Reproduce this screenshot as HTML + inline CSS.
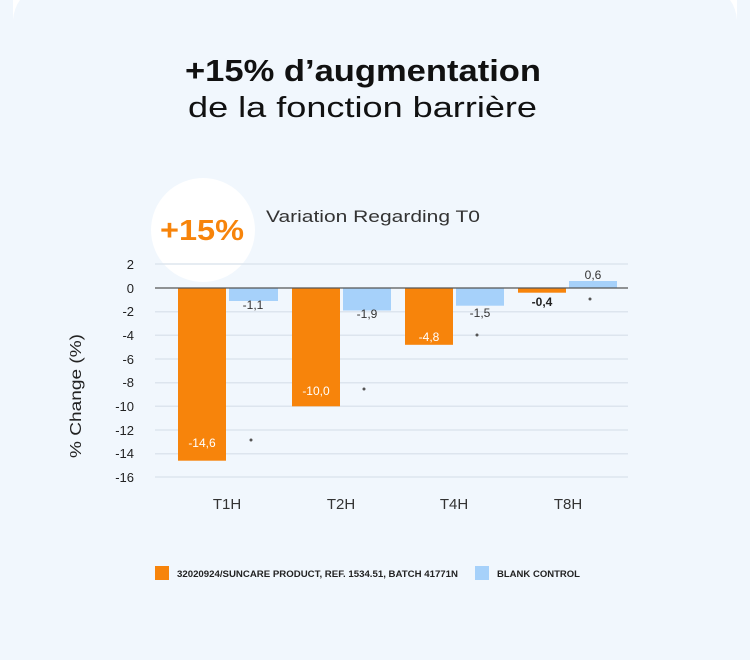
<!DOCTYPE html>
<html><head><meta charset="utf-8"><style>
html,body{margin:0;padding:0;}
body{width:750px;height:660px;background:#f1f7fd;font-family:"Liberation Sans",sans-serif;overflow:hidden;position:relative;}
</style></head><body>
<svg width="750" height="660" viewBox="0 0 750 660" xmlns="http://www.w3.org/2000/svg" style="position:absolute;left:0;top:0">
<rect width="750" height="660" fill="#f1f7fd"/>
<path d="M13 0 L20 0 Q14 8 13 20 Z" fill="#ffffff"/>
<path d="M737 0 L730 0 Q736 8 737 20 Z" fill="#ffffff"/>
<text x="185" y="81" textLength="356" lengthAdjust="spacingAndGlyphs" font-size="31" font-weight="bold" fill="#111">+15% d’augmentation</text>
<text x="188" y="117" textLength="349" lengthAdjust="spacingAndGlyphs" font-size="29" fill="#111">de la fonction barrière</text>
<circle cx="203" cy="230" r="52" fill="#ffffff"/>
<text x="160" y="240" textLength="84" lengthAdjust="spacingAndGlyphs" font-size="29" font-weight="bold" fill="#f7840b">+15%</text>
<text x="266" y="222" textLength="214" lengthAdjust="spacingAndGlyphs" font-size="17" fill="#333">Variation Regarding T0</text>
<g stroke="#dde5ee" stroke-width="1.5">
<line x1="155" x2="628" y1="264" y2="264"/>
<line x1="155" x2="628" y1="311.7" y2="311.7"/>
<line x1="155" x2="628" y1="335.3" y2="335.3"/>
<line x1="155" x2="628" y1="359" y2="359"/>
<line x1="155" x2="628" y1="382.7" y2="382.7"/>
<line x1="155" x2="628" y1="406.3" y2="406.3"/>
<line x1="155" x2="628" y1="430" y2="430"/>
<line x1="155" x2="628" y1="453.7" y2="453.7"/>
<line x1="155" x2="628" y1="477" y2="477"/>
</g>
<g fill="#f7840b">
<rect x="178" y="288" width="48" height="172.7"/>
<rect x="292" y="288" width="48" height="118.3"/>
<rect x="405" y="288" width="48" height="56.8"/>
<rect x="518" y="288" width="48" height="4.7"/>
</g>
<g fill="#a6d1fa">
<rect x="229" y="288" width="49" height="13"/>
<rect x="343" y="288" width="48" height="22.5"/>
<rect x="456" y="288" width="48" height="17.7"/>
<rect x="569" y="281" width="48" height="7"/>
</g>
<line x1="155" x2="628" y1="288" y2="288" stroke="#555" stroke-width="1.2"/>
<g font-size="13" fill="#222" text-anchor="end">
<text x="134" y="269">2</text><text x="134" y="293">0</text><text x="134" y="316">-2</text>
<text x="134" y="340">-4</text><text x="134" y="364">-6</text><text x="134" y="387">-8</text>
<text x="134" y="411">-10</text><text x="134" y="435">-12</text><text x="134" y="458">-14</text>
<text x="134" y="482">-16</text>
</g>
<text transform="translate(81,396) rotate(-90)" text-anchor="middle" textLength="124" lengthAdjust="spacingAndGlyphs" font-size="16" fill="#222">% Change (%)</text>
<g font-size="12" text-anchor="middle">
<text x="202" y="447" fill="#fff">-14,6</text>
<text x="316" y="395" fill="#fff">-10,0</text>
<text x="429" y="341" fill="#fff">-4,8</text>
<text x="542" y="306" fill="#222" font-weight="bold">-0,4</text>
<text x="253" y="309" fill="#333">-1,1</text>
<text x="367" y="318" fill="#333">-1,9</text>
<text x="480" y="317" fill="#333">-1,5</text>
<text x="593" y="279" fill="#333">0,6</text>
</g>
<g fill="#555">
<circle cx="251" cy="440" r="1.5"/><circle cx="364" cy="389" r="1.5"/>
<circle cx="477" cy="335" r="1.5"/><circle cx="590" cy="299" r="1.5"/>
</g>
<g font-size="15" fill="#333" text-anchor="middle">
<text x="227" y="509">T1H</text><text x="341" y="509">T2H</text>
<text x="454" y="509">T4H</text><text x="568" y="509">T8H</text>
</g>
<rect x="155" y="566" width="14" height="14" fill="#f7840b"/>
<text x="177" y="577" textLength="281" lengthAdjust="spacingAndGlyphs" font-size="9" font-weight="bold" fill="#222">32020924/SUNCARE PRODUCT, REF. 1534.51, BATCH 41771N</text>
<rect x="475" y="566" width="14" height="14" fill="#a6d1fa"/>
<text x="497" y="577" textLength="83" lengthAdjust="spacingAndGlyphs" font-size="9" font-weight="bold" fill="#222">BLANK CONTROL</text>
</svg>
</body></html>
